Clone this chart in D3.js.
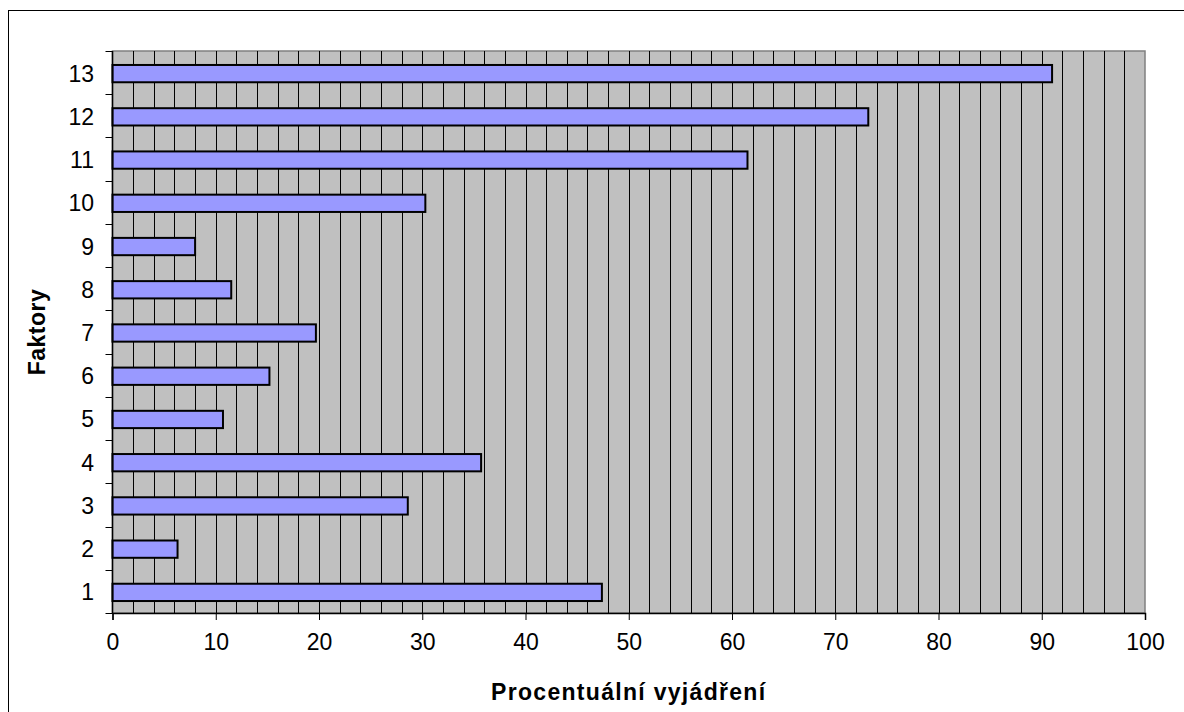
<!DOCTYPE html>
<html>
<head>
<meta charset="utf-8">
<script src="https://cdn.jsdelivr.net/npm/d3@7"></script>
<style>
  html, body { margin: 0; padding: 0; background: #fff; }
  svg { display: block; font-family: Arial, "Liberation Sans", sans-serif; }
</style>
</head>
<body>
<svg id="chart" width="1184" height="712"></svg>
<script>
// Factor numbers and their percentage share
const categories = ["1", "2", "3", "4", "5", "6", "7", "8", "9", "10", "11", "12", "13"];
const values = [47.4, 6.3, 28.6, 35.7, 10.7, 15.2, 19.7, 11.5, 8.0, 30.3, 61.5, 73.2, 91.0];
const xTicks = [0, 10, 20, 30, 40, 50, 60, 70, 80, 90, 100];
const gridSteps = d3.range(2, 100, 2);
const xTitle = "Procentuální vyjádření";
const yTitle = "Faktory";

const svg = d3.select("#chart");

// outer frame of the chart area
svg.append("rect")
  .attr("x", 8.5).attr("y", 10.5)
  .attr("width", 1300).attr("height", 800)
  .attr("fill", "#fff").attr("stroke", "#000").attr("stroke-width", 1);

const plot = { left: 112.5, right: 1145, top: 51, bottom: 613 };

const x = d3.scaleLinear().domain([0, 100]).range([plot.left, plot.right]);
const y = d3.scaleBand()
  .domain(categories.slice().reverse())
  .range([plot.top, plot.bottom])
  .paddingInner(0.6).paddingOuter(0.3);
const yBand = d3.scaleBand()
  .domain(categories.slice().reverse())
  .range([plot.top, plot.bottom]);

// plot background
svg.append("rect")
  .attr("x", plot.left).attr("y", plot.top)
  .attr("width", plot.right - plot.left).attr("height", plot.bottom - plot.top)
  .attr("fill", "#c0c0c0").attr("stroke", "#808080").attr("stroke-width", 1.5);

// vertical gridlines every 2 units
const crisp = v => Math.round(v) + 0.5;
svg.append("g").selectAll("line").data(gridSteps).join("line")
  .attr("x1", d => crisp(x(d))).attr("x2", d => crisp(x(d)))
  .attr("y1", plot.top).attr("y2", plot.bottom)
  .attr("stroke", "#000").attr("stroke-width", 1);

// bars
svg.append("g").selectAll("rect").data(values).join("rect")
  .attr("x", x(0))
  .attr("y", (d, i) => y(categories[i]) + 1)
  .attr("width", d => x(d) - x(0))
  .attr("height", y.bandwidth())
  .attr("fill", "#9999ff")
  .attr("stroke", "#000")
  .attr("stroke-width", 2);

// x axis
const xAxis = svg.append("g")
  .attr("transform", `translate(0,${plot.bottom})`)
  .call(d3.axisBottom(x).tickValues(xTicks).tickSize(7).tickPadding(14).tickFormat(d3.format("d")));
xAxis.select(".domain").attr("stroke", "#000").attr("stroke-width", 1.5);
xAxis.selectAll(".tick line").attr("stroke", "#000");
xAxis.selectAll("text").attr("font-size", 23).attr("fill", "#000")
  .attr("font-family", "Arial, 'Liberation Sans', sans-serif");

// y axis: tick marks at category boundaries, labels at band centers
const boundaries = d3.range(0, categories.length + 1).map(i => plot.top + i * yBand.step());
const yAxis = svg.append("g");
yAxis.append("line")
  .attr("x1", plot.left).attr("x2", plot.left)
  .attr("y1", plot.top).attr("y2", plot.bottom)
  .attr("stroke", "#000").attr("stroke-width", 1.5);
yAxis.selectAll("line.tick").data(boundaries).join("line")
  .attr("class", "tick")
  .attr("x1", plot.left - 7).attr("x2", plot.left)
  .attr("y1", d => crisp(d)).attr("y2", d => crisp(d))
  .attr("stroke", "#000");
yAxis.selectAll("text").data(categories).join("text")
  .attr("x", 94)
  .attr("y", d => yBand(d) + yBand.bandwidth() / 2 + 1)
  .attr("text-anchor", "end")
  .attr("dominant-baseline", "central")
  .attr("font-size", 23)
  .text(d => d);

// axis titles
svg.append("text")
  .attr("x", (plot.left + plot.right) / 2)
  .attr("y", 700)
  .attr("text-anchor", "middle")
  .attr("font-size", 23).attr("font-weight", "bold")
  .attr("letter-spacing", "1.3px")
  .text(xTitle);

svg.append("text")
  .attr("transform", `translate(45,${(plot.top + plot.bottom) / 2}) rotate(-90)`)
  .attr("text-anchor", "middle")
  .attr("font-size", 23).attr("font-weight", "bold")
  .attr("letter-spacing", "0.5px")
  .text(yTitle);
</script>
</body>
</html>
